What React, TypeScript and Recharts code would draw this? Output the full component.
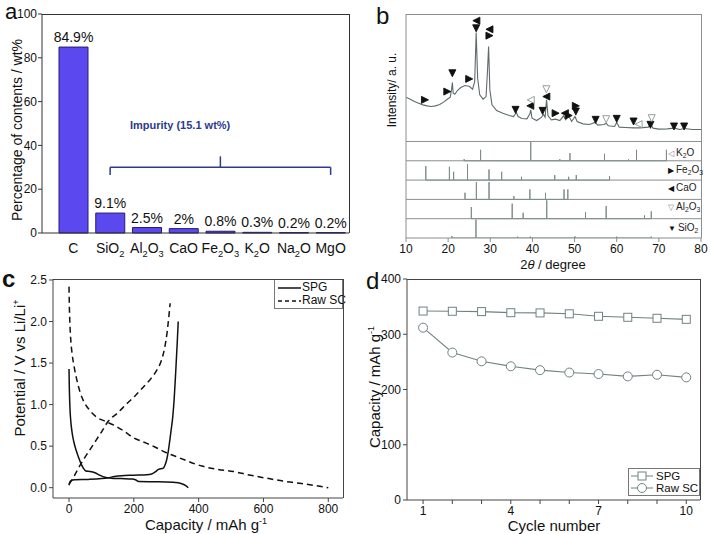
import React from 'react'
import {
  BarChart, Bar, ComposedChart, LabelList, Legend, Line, LineChart,
  ReferenceLine, Scatter, XAxis, YAxis,
} from 'recharts'

const FONT = '"Liberation Sans", Arial, Helvetica, sans-serif'
const INK = '#111'

// a: composition of the spent graphite
const species = ['C', 'SiO2', 'Al2O3', 'CaO', 'Fe2O3', 'K2O', 'Na2O', 'MgO']
const contentWt = [84.9, 9.1, 2.5, 2, 0.8, 0.3, 0.2, 0.2]
const wtTicks = [0, 20, 40, 60, 80, 100]

// b: XRD pattern, 2θ and intensity (a.u.)
const xrdTheta = [10, 11, 12, 13, 14, 15, 16, 17, 18, 19, 19.8, 20.5, 20.8, 21.0, 21.2, 21.6, 22.2, 23, 24, 25,
  25.8, 26.3, 26.65, 27.0, 27.5, 28.3, 29.0, 29.35, 29.6, 29.9, 30.4, 31.5, 33, 34.5, 35.5, 36.2, 36.6, 37.5, 38.7, 39.4,
  39.6, 39.9, 41, 42.2, 42.6, 43.0, 43.35, 43.7, 44.5, 45.5, 46.5, 47.4, 47.9, 48.6, 49.3, 50.1, 50.6, 52, 53.5, 54.9,
  55.5, 57, 57.5, 58, 59.5, 60, 60.6, 62, 64, 65.5, 67.5, 68.1, 68.6, 70, 72, 73.6, 75, 76, 78, 80]
const xrdCounts = [133, 127, 120, 115, 110, 107, 105, 107, 111, 119, 127, 133, 155, 177, 145, 142, 153, 162, 168, 166,
  157, 180, 327, 190, 140, 127, 135, 215, 285, 155, 110, 93, 85, 78, 75, 87, 75, 69, 68, 83,
  95, 70, 63, 73, 82, 73, 125, 77, 65, 67, 63, 77, 65, 77, 60, 75, 60, 53, 51, 57,
  49, 51, 55, 47, 45, 57, 43, 42, 41, 41, 43, 53, 40, 37, 38, 40, 36, 39, 36, 36]
const thetaTicks = [10, 20, 30, 40, 50, 60, 70, 80]

// reference cards: [2θ, stick height]
const k2oCard = [[23.8, 5], [27.7, 33], [39.6, 56], [46.5, 5], [48.9, 23], [57.1, 21], [62.8, 5], [64.7, 33], [71.8, 33]]
const fe2o3Card = [[14.7, 42], [20.3, 40], [21.3, 25], [24.6, 48], [29.7, 32], [32.7, 25], [37.4, 10], [45.3, 15], [48.6, 10], [50.4, 15], [58.3, 12]]
const caoCard = [[24.0, 20], [26.7, 52], [29.7, 52], [35.6, 10], [39.4, 30], [43.1, 20], [47.5, 30], [48.4, 30]]
const al2o3Card = [[25.5, 35], [35.2, 45], [37.8, 18], [43.4, 55], [52.6, 20], [57.5, 38], [66.6, 10], [68.2, 22]]
const sio2Card = [[20.9, 6], [26.6, 55], [36.5, 4], [39.5, 4], [50.1, 5], [60.0, 4], [68.2, 4]]
const cardNames = ['K2O', 'Fe2O3', 'CaO', 'Al2O3', 'SiO2']
const cardGlyphs = ['◁', '▶', '◀', '▽', '▼']

// phase markers on the pattern: [2θ, intensity]
const sio2Marks = [[21.0, 205], [26.65, 340], [36.0, 95], [42.4, 92], [50.3, 90], [55.0, 65], [60.0, 68], [64.0, 60], [68.0, 50], [73.6, 45], [76.0, 45]]
const fe2o3Marks = [[14.5, 125], [19.8, 150], [25.0, 188], [29.8, 318], [45.5, 85], [48.6, 78], [50.3, 107]]
const caoMarks = [[26.7, 363], [29.8, 337], [39.5, 107], [43.3, 135], [47.7, 85]]
const al2o3Marks = [[43.3, 157], [57.5, 67], [68.3, 70]]
const k2oMarks = [[39.6, 125], [65.2, 52]]

// c: charge/discharge profiles, [mAh/g, V]
const spgDischarge = [[0, 1.43], [1, 1.2], [3, 0.95], [6, 0.78], [10, 0.65], [15, 0.55], [22, 0.45], [30, 0.36], [38, 0.28], [45, 0.23],
  [52, 0.2], [65, 0.195], [80, 0.18], [95, 0.15], [111, 0.125], [130, 0.115], [160, 0.11], [195, 0.105], [205, 0.095], [215, 0.075],
  [260, 0.072], [300, 0.07], [337, 0.06], [350, 0.045], [360, 0.025], [368, 0]]
const spgCharge = [[0, 0.03], [2, 0.06], [6, 0.085], [18, 0.095], [60, 0.1], [100, 0.11], [121, 0.12], [140, 0.135], [162, 0.145],
  [200, 0.15], [240, 0.155], [255, 0.165], [266, 0.19], [276, 0.22], [291, 0.235], [296, 0.27], [301, 0.33], [306, 0.43],
  [311, 0.57], [316, 0.72], [320, 0.85], [325, 1.1], [330, 1.45], [334, 1.75], [337, 2.0]]
const rawDischarge = [[0, 2.42], [1, 2.2], [3, 1.95], [6, 1.75], [10, 1.6], [16, 1.45], [24, 1.3], [35, 1.14], [48, 1.02], [62, 0.94],
  [85, 0.85], [111, 0.8], [140, 0.75], [170, 0.68], [200, 0.6], [230, 0.55], [265, 0.49], [301, 0.42], [340, 0.36], [410, 0.26],
  [460, 0.22], [507, 0.195], [560, 0.15], [610, 0.114], [660, 0.08], [712, 0.053], [760, 0.025], [800, 0]]
const rawCharge = [[0, 0.04], [10, 0.1], [20, 0.17], [34, 0.27], [50, 0.37], [75, 0.52], [100, 0.67], [121, 0.8], [150, 0.9],
  [178, 1.01], [205, 1.11], [229, 1.21], [250, 1.3], [270, 1.41], [285, 1.53], [295, 1.68], [303, 1.88], [312, 2.22]]
const capTicks = [0, 200, 400, 600, 800]
const voltTicks = [0, 0.5, 1, 1.5, 2, 2.5]

// d: cycling
const cycles = [1, 2, 3, 4, 5, 6, 7, 8, 9, 10]
const spgCapacity = [342, 341.6, 341, 339, 338.6, 337, 332.5, 330.7, 328.9, 327]
const rawCapacity = [311.9, 266.9, 251, 242, 235, 230.7, 228, 223.7, 226.7, 221.9]
const capacityTicks = [0, 100, 200, 300, 400]
const seriesOrder = ['SPG', 'Raw SC']

const CARD = 58

const compRows = species.map((name, i) => ({ name, value: contentWt[i] }))
const xrdRows = xrdTheta.map((t, i) => ({ t, v: xrdCounts[i] }))
const cardRows = [k2oCard, fe2o3Card, caoCard, al2o3Card, sio2Card].map((card, k) => {
  const base = -(k + 1) * CARD
  return card.flatMap(([t, h]) => [{ t, v: base }, { t, v: base + h }, { t, v: base }])
})
const marks = (pairs: number[][]) => pairs.map(([t, v]) => ({ t, v }))
const pts = (pairs: number[][]) => pairs.map(([cap, v]) => ({ cap, v }))
const cycleRows = cycles.map((c, i) => ({ c, spg: spgCapacity[i], raw: rawCapacity[i] }))

function subs(text: string, size: number) {
  let low = false
  return text.split(/(\d+)/).filter(Boolean).map((p, i) => {
    const num = /^\d+$/.test(p)
    const dy = num && !low ? size * 0.3 : !num && low ? -size * 0.3 : 0
    low = num
    return <tspan key={i} dy={dy} fontSize={num ? size * 0.66 : size}>{p}</tspan>
  })
}

function HtmlFormula({ text }: { text: string }) {
  return (
    <>
      {text.split(/(\d+)/).filter(Boolean).map((p, i) =>
        /^\d+$/.test(p)
          ? <sub key={i} style={{ fontSize: '0.68em', verticalAlign: '-0.3em', lineHeight: 0 }}>{p}</sub>
          : <span key={i}>{p}</span>)}
    </>
  )
}

function OxideTick(props: any) {
  const { x, y, payload } = props
  return (
    <text x={x} y={y + 12} textAnchor="middle" fill={INK} fontSize={14}>{subs(String(payload.value), 14)}</text>
  )
}

const triangle = (dir: string, filled: boolean) => (props: any) => {
  const { cx, cy } = props
  const s = 3.5
  let p = ''
  if (dir === 'down') p = `${cx - s},${cy - s} ${cx + s},${cy - s} ${cx},${cy + s}`
  if (dir === 'right') p = `${cx - s},${cy - s} ${cx - s},${cy + s} ${cx + s},${cy}`
  if (dir === 'left') p = `${cx + s},${cy - s} ${cx + s},${cy + s} ${cx - s},${cy}`
  return <polygon points={p} fill={filled ? '#111' : '#fff'} stroke={filled ? '#111' : '#8a9494'} strokeWidth={0.9} />
}

const SquareDot = (props: any) => {
  const { cx, cy } = props
  if (cx == null || cy == null) return null
  return <rect x={cx - 4} y={cy - 4} width={8} height={8} fill="#fff" stroke="#6f8282" strokeWidth={1} />
}
const CircleDot = (props: any) => {
  const { cx, cy } = props
  if (cx == null || cy == null) return null
  return <circle cx={cx} cy={cy} r={4.5} fill="#fff" stroke="#6f8282" strokeWidth={1} />
}

const byOrder = (payload: any[]) =>
  (payload || []).filter((e: any) => seriesOrder.includes(e.value))
    .sort((a: any, b: any) => seriesOrder.indexOf(a.value) - seriesOrder.indexOf(b.value))

function ProfileLegend(props: any) {
  return (
    <div style={{ border: '1px solid #777', background: '#fff', padding: '1px 2px', fontSize: 12, lineHeight: '13px', whiteSpace: 'nowrap', boxSizing: 'border-box', width: 69 }}>
      {byOrder(props.payload).map((e: any) => (
        <div key={e.value} style={{ display: 'flex', alignItems: 'center' }}>
          <svg width={24} height={12} style={{ flex: 'none' }}>
            <line x1={1} x2={24} y1={6} y2={6} stroke={INK} strokeWidth={1.5} strokeDasharray={e.value === 'Raw SC' ? '4 3' : undefined} />
          </svg>
          <span style={{ marginLeft: 1 }}>{e.value}</span>
        </div>
      ))}
    </div>
  )
}

function CycleLegend(props: any) {
  return (
    <div style={{ border: '1px solid #777', background: '#fff', padding: '1px 1px', fontSize: 11.5, lineHeight: '12px', whiteSpace: 'nowrap', boxSizing: 'border-box', width: 72, overflow: 'hidden' }}>
      {byOrder(props.payload).map((e: any) => (
        <div key={e.value} style={{ display: 'flex', alignItems: 'center' }}>
          <svg width={24} height={12} style={{ flex: 'none' }}>
            <line x1={1} x2={23} y1={6} y2={6} stroke="#6f8282" strokeWidth={1} />
            {e.value === 'SPG'
              ? <rect x={8} y={2} width={8} height={8} fill="#fff" stroke="#6f8282" />
              : <circle cx={12} cy={6} r={4.5} fill="#fff" stroke="#6f8282" />}
          </svg>
          <span style={{ marginLeft: 2 }}>{e.value}</span>
        </div>
      ))}
    </div>
  )
}

const Pos = ({ left, top, children }: any) => (
  <div style={{ position: 'absolute', left, top }}>{children}</div>
)

// top and right edges of a plot box
const Frame = ({ left, top, right, bottom, color }: any) => (
  <div style={{
    position: 'absolute', left, top, width: right - left, height: bottom - top, boxSizing: 'border-box',
    borderTop: `1px solid ${color}`, borderRight: `1px solid ${color}`, pointerEvents: 'none',
  }} />
)

const Title = ({ x, y, size, rotate, children, style }: any) => (
  <div style={{
    position: 'absolute', left: x, top: y, whiteSpace: 'nowrap', fontSize: size, lineHeight: 1,
    transform: `translate(-50%, -50%)${rotate ? ' rotate(-90deg)' : ''}`, ...style,
  }}>{children}</div>
)

function CompositionChart() {
  const navy = '#2d3a8e'
  return (
    <BarChart width={355} height={265} data={compRows} margin={{ top: 14, right: 6, left: 0, bottom: 0 }}>
      <XAxis dataKey="name" height={32} padding={{ left: 13, right: 0 }} interval={0} tickLine={false} stroke="#333" tick={<OxideTick />} />
      <YAxis domain={[0, 100]} ticks={wtTicks} width={42} tickSize={4} tickMargin={1} stroke="#333" tick={{ fontSize: 12, fill: INK }} />
      <Bar dataKey="value" barSize={29} fill="#5b48ee" stroke="#241c78" strokeWidth={1} isAnimationActive={false}>
        <LabelList dataKey="value" position="top" offset={5} fontSize={14} fill={INK} formatter={(v: any) => `${v}%`} />
      </Bar>
      <ReferenceLine segment={[{ x: 'SiO2', y: 30 }, { x: 'MgO', y: 30 }]} stroke={navy} strokeWidth={1.5} />
      <ReferenceLine segment={[{ x: 'SiO2', y: 30 }, { x: 'SiO2', y: 26.5 }]} stroke={navy} strokeWidth={1.5} />
      <ReferenceLine segment={[{ x: 'MgO', y: 30 }, { x: 'MgO', y: 26.5 }]} stroke={navy} strokeWidth={1.5} />
      <ReferenceLine segment={[{ x: 'Fe2O3', y: 30 }, { x: 'Fe2O3', y: 35 }]} stroke={navy} strokeWidth={1.5} />
    </BarChart>
  )
}

function XrdChart() {
  const frame = '#8a8f90'
  const marker = [
    { data: sio2Marks, shape: triangle('down', true) },
    { data: fe2o3Marks, shape: triangle('right', true) },
    { data: caoMarks, shape: triangle('left', true) },
    { data: al2o3Marks, shape: triangle('down', false) },
    { data: k2oMarks, shape: triangle('left', false) },
  ]
  return (
    <ComposedChart width={355} height={275} margin={{ top: 14, right: 9, left: 0, bottom: 0 }}>
      <XAxis dataKey="t" type="number" domain={[10, 80]} ticks={thetaTicks} height={37} tickSize={4} stroke={frame} tick={{ fontSize: 12, fill: INK }} allowDataOverflow />
      <YAxis type="number" domain={[-290, 383]} width={51} tick={false} tickLine={false} stroke={frame} allowDataOverflow />
      {[0, -1, -2, -3, -4].map((k) => (
        <ReferenceLine key={k} y={k * CARD} stroke={frame} strokeWidth={1} />
      ))}
      {cardRows.map((rows, k) => (
        <Line key={cardNames[k]} data={rows} dataKey="v" type="linear" stroke="#7f8c8c" strokeWidth={1} dot={false} isAnimationActive={false} />
      ))}
      <Line data={xrdRows} dataKey="v" type="linear" stroke="#5e6b6d" strokeWidth={1.1} dot={false} isAnimationActive={false} />
      {marker.map((m, i) => (
        <Scatter key={i} data={marks(m.data)} dataKey="v" shape={m.shape} isAnimationActive={false} />
      ))}
    </ComposedChart>
  )
}

function ProfileChart() {
  return (
    <LineChart width={355} height={269} margin={{ top: 14, right: 12, left: 0, bottom: 0 }}>
      <XAxis dataKey="cap" type="number" domain={[-49.4, 845.4]} ticks={capTicks} height={36} tickSize={4} stroke="#444" tick={{ fontSize: 12, fill: INK }} allowDataOverflow />
      <YAxis type="number" domain={[-0.124, 2.512]} ticks={voltTicks} tickFormatter={(v: number) => v.toFixed(1)} width={53} tickSize={4} stroke="#444" tick={{ fontSize: 12, fill: INK }} allowDataOverflow />
      <Legend layout="horizontal" verticalAlign="middle" align="center" content={<ProfileLegend />} wrapperStyle={{ top: 14, left: 274, width: 69, height: 28 }} />
      <Line name="SPG" data={pts(spgDischarge)} dataKey="v" type="monotoneX" stroke={INK} strokeWidth={1.5} dot={false} isAnimationActive={false} />
      <Line name="SPG charge" legendType="none" data={pts(spgCharge)} dataKey="v" type="monotoneX" stroke={INK} strokeWidth={1.5} dot={false} isAnimationActive={false} />
      <Line name="Raw SC" data={pts(rawDischarge)} dataKey="v" type="monotoneX" stroke={INK} strokeWidth={1.5} strokeDasharray="6 4" dot={false} isAnimationActive={false} />
      <Line name="Raw SC charge" legendType="none" data={pts(rawCharge)} dataKey="v" type="monotoneX" stroke={INK} strokeWidth={1.5} strokeDasharray="6 4" dot={false} isAnimationActive={false} />
    </LineChart>
  )
}

function CycleChart() {
  return (
    <LineChart width={355} height={269} data={cycleRows} margin={{ top: 14, right: 10, left: 0, bottom: 0 }}>
      <XAxis dataKey="c" type="number" domain={[0.45, 10.47]} ticks={cycles} tickFormatter={(v: number) => ([1, 4, 7, 10].includes(v) ? String(v) : '')} height={34} tickSize={4} stroke="#444" tick={{ fontSize: 12, fill: INK }} allowDataOverflow />
      <YAxis type="number" domain={[0, 400]} ticks={capacityTicks} width={52} tickSize={4} stroke="#444" tick={{ fontSize: 12, fill: INK }} allowDataOverflow />
      <Legend layout="horizontal" verticalAlign="middle" align="center" content={<CycleLegend />} wrapperStyle={{ top: 203, left: 273, width: 72, height: 28 }} />
      <Line name="SPG" dataKey="spg" type="linear" stroke="#6f8282" strokeWidth={1.1} dot={<SquareDot />} isAnimationActive={false} />
      <Line name="Raw SC" dataKey="raw" type="linear" stroke="#6f8282" strokeWidth={1.1} dot={<CircleDot />} isAnimationActive={false} />
    </LineChart>
  )
}

const stickLabelY = [153, 170, 188, 207, 228]

export default function App() {
  return (
    <div style={{ position: 'absolute', left: 0, top: 0, width: 710, height: 534, background: '#fff', fontFamily: FONT, color: INK, overflow: 'hidden' }}>
      <Pos left={0} top={0}><CompositionChart /></Pos>
      <Pos left={355} top={0}><XrdChart /></Pos>
      <Pos left={0} top={265}><ProfileChart /></Pos>
      <Pos left={355} top={265}><CycleChart /></Pos>

      <Frame left={42} top={14} right={350} bottom={233} color="#333" />
      <Frame left={406} top={14} right={702} bottom={238} color="#8a8f90" />
      <Frame left={53} top={279} right={344} bottom={498} color="#444" />
      <Frame left={407} top={279} right={701} bottom={500} color="#444" />

      <div style={{ position: 'absolute', left: 5, top: 1, fontSize: 22, lineHeight: '22px' }}>a</div>
      <div style={{ position: 'absolute', left: 376, top: 2, fontSize: 24 }}>b</div>
      <div style={{ position: 'absolute', left: 2, top: 265, fontSize: 24, fontWeight: 'bold' }}>c</div>
      <div style={{ position: 'absolute', left: 366, top: 267, fontSize: 24 }}>d</div>

      <Title x={17} y={130} size={14} rotate>Percentage of contents / wt%</Title>
      <div style={{ position: 'absolute', left: 130, top: 119, fontSize: 11, fontWeight: 'bold', color: '#2d3a8e', whiteSpace: 'nowrap' }}>Impurity (15.1 wt%)</div>

      <Title x={392} y={90} size={12} rotate>Intensity/ a. u.</Title>
      <Title x={553} y={264} size={13}>2<i>θ</i> / degree</Title>
      {cardNames.map((n, k) => (
        <div key={n} style={{ position: 'absolute', left: 668, top: stickLabelY[k] - 6, fontSize: 10, whiteSpace: 'nowrap', color: '#222' }}>
          <span style={{ fontSize: 8, color: k === 0 || k === 3 ? '#889' : '#111', marginRight: 2 }}>{cardGlyphs[k]}</span>
          <HtmlFormula text={n} />
        </div>
      ))}

      <Title x={19} y={368} size={15} rotate>Potential / V vs Li/Li<sup style={{ fontSize: '0.6em', lineHeight: 0 }}>+</sup></Title>
      <Title x={206} y={524} size={15}>Capacity / mAh g<sup style={{ fontSize: '0.6em', lineHeight: 0 }}>-1</sup></Title>

      <Title x={374} y={387} size={15} rotate>Capacity / mAh g<sup style={{ fontSize: '0.6em', lineHeight: 0 }}>-1</sup></Title>
      <Title x={554} y={525} size={15}>Cycle number</Title>
    </div>
  )
}
